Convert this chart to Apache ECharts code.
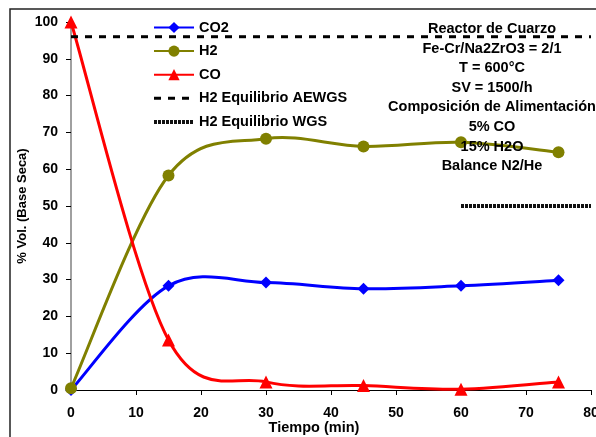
<!DOCTYPE html>
<html>
<head>
<meta charset="utf-8">
<script src="https://cdn.jsdelivr.net/npm/echarts@6/dist/echarts.min.js"></script>
<style>
  html, body { margin: 0; padding: 0; background: #fff; }
  #main { width: 596px; height: 437px; }
</style>
</head>
<body>
<div id="main"></div>
<script>
// datos
var tiempo = [0, 15, 30, 45, 60, 75];
var co2 = [0, 28.3, 29.2, 27.5, 28.3, 29.8];
var h2 = [0.5, 58.3, 68.3, 66.2, 67.3, 64.6];
var co = [100, 13.6, 2.2, 1.2, 0.2, 2.2];
// lineas de equilibrio
var aewgsX = [0, 80];
var aewgsY = [96, 96];
var wgsX = [60, 80];
var wgsY = [50, 50];
var notas = ['Reactor de Cuarzo', 'Fe-Cr/Na2ZrO3 = 2/1', 'T = 600°C', 'SV = 1500/h',
  'Composición de Alimentación', '5% CO', '15% H2O', 'Balance N2/He'];

function pares(xs, ys) {
  return xs.map(function (x, i) { return [x, ys[i]]; });
}

// curva suavizada tipo Excel (Catmull-Rom) usando las escalas del grafico
function curva(ys, color) {
  return {
    type: 'custom', coordinateSystem: 'cartesian2d', silent: true,
    data: [[tiempo[0], ys[0]]],
    renderItem: function (params, api) {
      var p = tiempo.map(function (x, i) { return api.coord([x, ys[i]]); });
      var d = 'M' + p[0][0] + ' ' + p[0][1];
      for (var i = 0; i < p.length - 1; i++) {
        var p0 = p[Math.max(i - 1, 0)], p1 = p[i], p2 = p[i + 1], p3 = p[Math.min(i + 2, p.length - 1)];
        var c1 = [p1[0] + (p2[0] - p0[0]) / 6, p1[1] + (p2[1] - p0[1]) / 6];
        var c2 = [p2[0] - (p3[0] - p1[0]) / 6, p2[1] - (p3[1] - p1[1]) / 6];
        d += ' C' + c1[0] + ' ' + c1[1] + ' ' + c2[0] + ' ' + c2[1] + ' ' + p2[0] + ' ' + p2[1];
      }
      return { type: 'path', shape: { pathData: d },
        style: { stroke: color, lineWidth: 3, fill: null, lineJoin: 'round' } };
    }
  };
}

function marcas(nombre, ys, color, simbolo, tam) {
  return {
    name: nombre, type: 'line', data: pares(tiempo, ys),
    symbol: simbolo, symbolSize: tam,
    lineStyle: { color: color, width: 3, opacity: 0 }, itemStyle: { color: color }
  };
}

var fuente = 'Liberation Sans, Arial, sans-serif';
var chart = echarts.init(document.getElementById('main'));

var textos = notas.map(function (t, i) {
  return {
    type: 'text', z: 100, silent: true,
    style: { text: t, x: 492, y: 29 + i * 19.6, textAlign: 'center', textVerticalAlign: 'middle',
      font: 'bold 14.5px ' + fuente, fill: '#000' }
  };
});

var option = {
  animation: false,
  textStyle: { fontFamily: fuente },
  grid: { left: 71, right: 5, top: 22, bottom: 47, outerBoundsMode: 'none', containLabel: false },
  legend: {
    left: 147, top: 15, orient: 'vertical',
    itemWidth: 40, itemHeight: 14, itemGap: 8.6,
    textStyle: { fontWeight: 'bold', fontSize: 14.5, color: '#000', fontFamily: fuente },
    data: [
      { name: 'CO2', lineStyle: { opacity: 1 } },
      { name: 'H2', lineStyle: { opacity: 1 } },
      { name: 'CO', lineStyle: { opacity: 1 } },
      { name: 'H2 Equilibrio AEWGS', itemStyle: { opacity: 0 }, lineStyle: { width: 3 } },
      { name: 'H2 Equilibrio WGS', itemStyle: { opacity: 0 }, lineStyle: { width: 4 } }]
  },
  xAxis: {
    type: 'value', min: 0, max: 80, interval: 10,
    name: 'Tiempo (min)', nameLocation: 'middle', nameGap: 30, nameMoveOverlap: false,
    nameTextStyle: { fontWeight: 'bold', fontSize: 14.5, color: '#000', padding: [0, 0, 0, -34] },
    axisLine: { onZero: false, lineStyle: { color: '#000', width: 1 } },
    axisTick: { show: true, length: 5, lineStyle: { color: '#000' } },
    axisLabel: { fontWeight: 'bold', fontSize: 14, color: '#000', margin: 16 },
    splitLine: { show: false }
  },
  yAxis: {
    type: 'value', min: 0, max: 100, interval: 10,
    name: '% Vol. (Base Seca)', nameLocation: 'middle', nameGap: 42, nameMoveOverlap: false,
    nameTextStyle: { fontWeight: 'bold', fontSize: 13, color: '#000' },
    axisLine: { show: true, lineStyle: { color: '#808080', width: 1.5 } },
    axisTick: { show: true, length: 5, lineStyle: { color: '#000' } },
    axisLabel: { fontWeight: 'bold', fontSize: 14, color: '#000', margin: 13 },
    splitLine: { show: false }
  },
  graphic: [
    { type: 'polyline', silent: true, z: 100,
      shape: { points: [[10, 437], [10, 9], [596, 9]] },
      style: { stroke: '#222', lineWidth: 1.5, fill: null } }
  ].concat(textos),
  series: [
    curva(co2, '#0000ff'),
    marcas('CO2', co2, '#0000ff', 'diamond', 12),
    curva(h2, '#808000'),
    marcas('H2', h2, '#808000', 'circle', 12),
    curva(co, '#ff0000'),
    marcas('CO', co, '#ff0000', 'triangle', 13),
    {
      name: 'H2 Equilibrio AEWGS', type: 'line', data: pares(aewgsX, aewgsY),
      symbol: 'none', lineStyle: { color: '#000', width: 3, type: [7, 7] },
      itemStyle: { color: '#000' }
    },
    {
      name: 'H2 Equilibrio WGS', type: 'line', data: pares(wgsX, wgsY),
      symbol: 'none', lineStyle: { color: '#111', width: 4, type: [3, 1] },
      itemStyle: { color: '#111' }
    }
  ]
};
chart.setOption(option);
</script>
</body>
</html>
